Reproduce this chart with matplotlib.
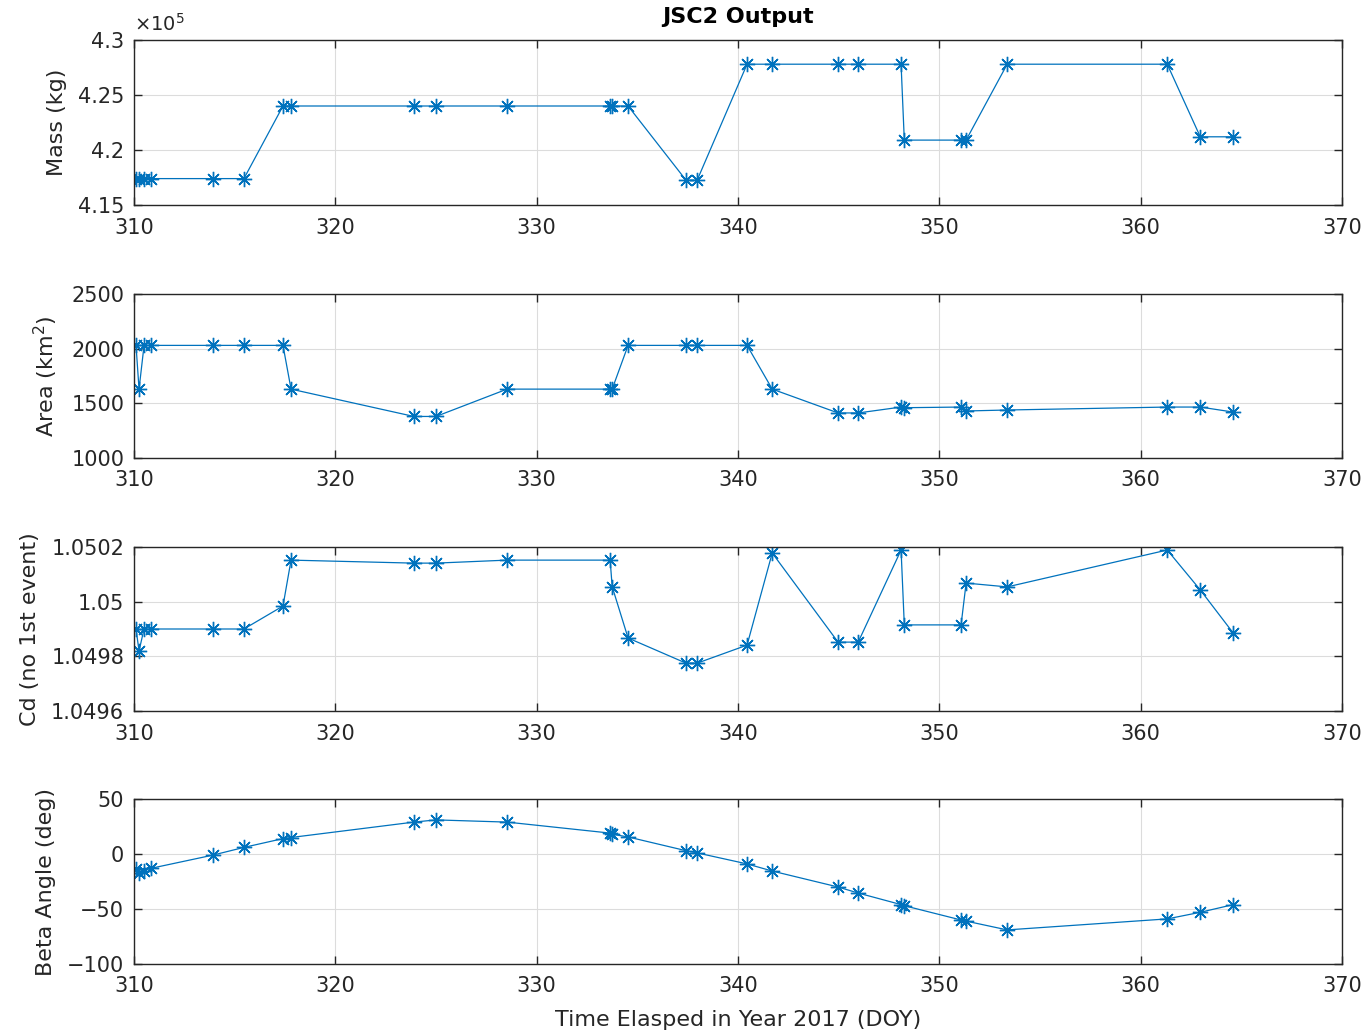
import matplotlib
matplotlib.use("Agg")
import matplotlib.pyplot as plt
from matplotlib.ticker import FuncFormatter

# Event times (day of year 2017)
doy = [310.1, 310.25, 310.5, 310.85, 313.92, 315.46, 317.4, 317.8,
       323.9, 325.0, 328.53, 333.65, 333.75, 334.54, 337.42, 337.97,
       340.45, 341.7, 344.97, 345.97, 348.1, 348.26, 351.08, 351.33,
       353.37, 361.32, 362.96, 364.6]

# Vehicle mass (kg)
mass = [417400, 417400, 417400, 417400, 417400, 417400, 424000, 424000,
        424000, 424000, 424000, 424000, 424000, 424000, 417250, 417250,
        427800, 427800, 427800, 427800, 427800, 420900, 420900, 420900,
        427800, 427800, 421200, 421200]

# Drag area (km^2)
area = [2030, 1630, 2030, 2030, 2030, 2030, 2030, 1630,
        1380, 1380, 1630, 1630, 1630, 2030, 2030, 2030,
        2030, 1630, 1412, 1412, 1466, 1460, 1466, 1430,
        1439, 1466, 1466, 1420]

# Drag coefficient
cd = [1.04990, 1.04982, 1.04990, 1.04990, 1.04990, 1.04990, 1.049984, 1.050152,
      1.050141, 1.050141, 1.050152, 1.050152, 1.050055, 1.049867, 1.049775, 1.049775,
      1.049841, 1.050178, 1.049852, 1.049852, 1.050189, 1.049915, 1.049915, 1.050068,
      1.050054, 1.050189, 1.050043, 1.049885]

# Beta angle (deg)
beta = [-14, -17, -15, -13, -1, 6, 14, 15,
        29, 31, 29, 19, 18, 15.5, 3, 1,
        -9, -15.5, -30, -35.5, -46, -47, -60, -61,
        -69, -59, -53, -46]

x_ticks = [310, 320, 330, 340, 350, 360, 370]
mass_ticks = [415000, 420000, 425000, 430000]
area_ticks = [1000, 1500, 2000, 2500]
cd_ticks = [1.0496, 1.0498, 1.05, 1.0502]
beta_ticks = [-100, -50, 0, 50]

labels = ["Mass (kg)", "Area (km$^2$)", "Cd (no 1st event)", "Beta Angle (deg)"]

line_color = "#0072BD"
text_color = "#262626"
plt.rcParams["font.family"] = ["DejaVu Sans"]

fig = plt.figure(figsize=(13.67, 10.35), dpi=100)
left, width = 134 / 1367, (1342 - 134) / 1367
boxes = [(40, 205), (294, 458), (547, 711), (799, 964)]
series = [mass, area, cd, beta]
yticks = [mass_ticks, area_ticks, cd_ticks, beta_ticks]

axes = []
for (top, bot), ys, yt, lab in zip(boxes, series, yticks, labels):
    ax = fig.add_axes([left, 1 - bot / 1035, width, (bot - top) / 1035])
    ax.plot(doy, ys, color=line_color, lw=0.9, marker=(8, 2, 0),
            markersize=11, markeredgewidth=1.0, markeredgecolor=line_color)
    ax.set_xlim(310, 370)
    ax.set_xticks(x_ticks)
    ax.set_ylim(yt[0], yt[-1])
    ax.set_yticks(yt)
    ax.grid(True, color="#dcdcdc", lw=0.8)
    ax.set_axisbelow(True)
    ax.tick_params(direction="in", top=True, right=True, length=6,
                   width=1.0, colors=text_color, labelsize=15)
    ax.tick_params(axis="x", pad=9)
    ax.tick_params(axis="y", pad=7)
    for s in ax.spines.values():
        s.set_color(text_color)
        s.set_linewidth(1.0)
    ax.set_ylabel(lab, fontsize=16, color=text_color, labelpad=8)
    axes.append(ax)

axes[0].yaxis.set_major_formatter(FuncFormatter(lambda v, p: f"{v / 1e5:g}"))
axes[0].text(0.0, 1.03, r"$\times10^{5}$", transform=axes[0].transAxes,
             ha="left", va="bottom", fontsize=14, color=text_color)
axes[2].yaxis.set_major_formatter(FuncFormatter(lambda v, p: f"{v:g}"))
axes[0].set_title("JSC2 Output", fontsize=16, fontweight="bold",
                  color="black", pad=12)
axes[3].set_xlabel("Time Elasped in Year 2017 (DOY)", fontsize=16,
                   color=text_color, labelpad=10)

fig.savefig("out.png", dpi=100, facecolor="white")
